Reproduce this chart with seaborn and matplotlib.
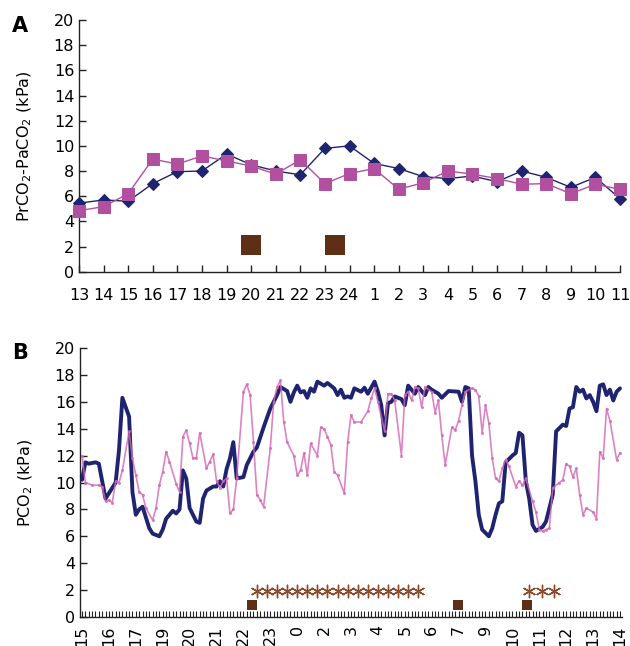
import numpy as np
import pandas as pd
import matplotlib
matplotlib.use("Agg")
import matplotlib.pyplot as plt
import seaborn as sns

# ---------------- Panel A data ----------------
hours_A = ["13", "14", "15", "16", "17", "18", "19", "20", "21", "22", "23", "24",
           "1", "2", "3", "4", "5", "6", "7", "8", "9", "10", "11"]
diamond_A = [5.45, 5.7, 5.6, 7.0, 7.95, 8.0, 9.35, 8.5, 8.0, 7.7, 9.8, 10.0,
             8.6, 8.2, 7.55, 7.4, 7.6, 7.15, 8.0, 7.5, 6.7, 7.5, 5.8]
square_A = [4.85, 5.17, 6.2, 8.95, 8.55, 9.2, 8.8, 8.4, 7.75, 8.9, 7.0, 7.8,
            8.2, 6.55, 7.07, 8.0, 7.75, 7.4, 6.95, 7.0, 6.2, 6.95, 6.55]
events_A_pos = [7, 10.4]
events_A_val = [2.1, 2.1]

# ---------------- Panel B data ----------------
labels_B = ["15", "16", "17", "19", "20", "21", "22", "23", "0", "2", "3", "4",
            "5", "6", "7", "9", "10", "11", "12", "13", "14"]
n_samples_B = 161
blue_idx = [0, 1, 2, 4, 5, 7, 8, 10, 11, 12, 14, 15, 16, 17, 18, 20, 21, 23, 24, 25,
            27, 28, 29, 30, 31, 32, 34, 35, 36, 37, 39, 40, 41, 42, 43, 44, 45, 46, 48, 49,
            51, 52, 54, 56, 58, 59, 61, 62, 63, 64, 65, 66, 67, 68, 69, 70, 72, 73, 75, 76,
            77, 78, 79, 80, 81, 83, 84, 85, 87, 88, 89, 90, 91, 92, 93, 95, 96, 97, 98, 99,
            100, 102, 103, 104, 106, 107, 109, 112, 113, 114, 115, 116, 117, 118, 119, 121,
            122, 123, 124, 125, 126, 128, 129, 130, 131, 132, 133, 134, 135, 137, 138, 140,
            141, 143, 144, 145, 146, 147, 148, 149, 150, 151, 152, 153, 154, 155, 156, 157,
            158, 159, 160]
blue_val = [10.2, 11.5, 11.4, 11.5, 11.4, 8.8, 9.2, 10.0, 12.4, 16.3, 14.9, 9.3, 7.6, 8.0,
            8.2, 6.6, 6.2, 6.0, 6.5, 7.3, 7.9, 7.7, 8.0, 10.9, 10.3, 8.1, 7.1, 7.0, 8.8, 9.4,
            9.7, 9.7, 10.1, 9.7, 11.0, 11.8, 13.0, 10.3, 10.4, 11.3, 12.3, 12.6, 14.1, 15.5,
            16.5, 17.1, 16.8, 16.0, 16.7, 17.2, 16.7, 16.8, 16.3, 17.0, 16.75, 17.5, 17.2,
            17.4, 17.0, 16.5, 16.9, 16.3, 16.4, 16.3, 17.0, 16.75, 17.05, 16.6, 17.5, 16.75,
            15.75, 13.5, 15.9, 16.0, 16.4, 16.2, 15.75, 17.2, 16.9, 16.6, 17.1, 16.5, 17.1,
            16.9, 16.6, 16.3, 16.8, 16.75, 16.0, 17.1, 17.0, 12.0, 10.1, 7.6, 6.5, 6.0, 6.6,
            7.6, 8.45, 8.6, 11.5, 12.0, 12.2, 13.7, 13.5, 10.1, 8.8, 6.85, 6.4, 6.7, 7.1, 9.1,
            13.8, 14.3, 14.2, 15.5, 15.6, 17.1, 16.75, 16.9, 16.25, 16.5, 16.0, 15.3, 17.2,
            17.3, 16.5, 16.9, 16.1, 16.75, 17.0]
pink_idx = [0, 1, 3, 5, 6, 7, 8, 9, 10, 11, 12, 14, 15, 16, 17, 18, 19, 21, 22, 23,
            24, 25, 26, 28, 29, 30, 31, 32, 33, 34, 35, 37, 38, 39, 40, 41, 42, 43, 44, 45,
            46, 48, 49, 50, 51, 52, 53, 54, 56, 57, 58, 59, 60, 61, 63, 64, 65, 66, 67, 68,
            70, 71, 72, 73, 74, 75, 76, 78, 79, 80, 81, 83, 85, 86, 87, 88, 90, 91, 92, 93,
            95, 96, 97, 98, 99, 100, 101, 102, 104, 105, 106, 107, 108, 110, 111, 112, 113,
            114, 116, 117, 118, 119, 120, 121, 122, 123, 124, 125, 126, 127, 129, 130, 131,
            132, 134, 135, 136, 137, 138, 139, 140, 142, 143, 144, 145, 146, 147, 148, 149,
            150, 152, 153, 154, 155, 156, 157, 159, 160]
pink_val = [12.0, 10.0, 9.8, 9.8, 9.7, 8.6, 8.7, 8.5, 10.1, 10.0, 10.9, 13.8, 11.8, 10.55,
            9.3, 9.1, 8.1, 7.2, 8.1, 9.8, 10.8, 12.3, 11.55, 9.9, 9.3, 13.4, 13.9, 12.9, 11.8,
            11.8, 13.7, 11.05, 11.55, 12.1, 10.1, 9.6, 10.1, 10.3, 7.7, 8.0, 10.3, 16.75, 17.3,
            16.5, 13.0, 9.1, 8.7, 8.2, 12.55, 16.0, 17.1, 17.6, 14.5, 13.0, 12.0, 10.55, 10.9,
            12.2, 10.55, 12.9, 12.0, 14.1, 14.0, 13.4, 12.8, 10.8, 10.55, 9.2, 13.0, 15.0,
            14.5, 14.5, 15.3, 16.25, 17.0, 16.0, 13.8, 16.6, 16.6, 16.1, 12.0, 16.5, 16.75,
            16.1, 17.1, 17.0, 15.6, 17.1, 16.75, 15.2, 16.1, 13.5, 11.3, 14.1, 13.9, 14.6,
            15.75, 16.75, 17.0, 16.9, 16.4, 13.7, 15.75, 14.4, 11.8, 10.3, 10.1, 11.05, 11.7,
            11.2, 9.7, 10.1, 9.8, 10.3, 8.6, 7.8, 6.5, 6.4, 6.5, 6.6, 9.6, 10.0, 10.2, 11.4,
            11.2, 10.4, 11.05, 9.1, 7.6, 8.1, 7.8, 7.3, 12.3, 11.8, 15.5, 14.6, 11.7, 12.2]
square_B_pos = [50.5, 111.7, 132.3]
square_B_val = [0.9, 0.9, 0.9]
star_B_pos = [52, 55, 58, 61, 64, 67, 70, 73, 76, 79, 82, 85, 88, 91, 94, 97, 100,
              133, 136.7, 140.4]
star_B_val = [1.95] * 20

NAVY = "#1f2470"
PINK_A = "#b0509f"
PINK_B = "#d466b4"
BROWN = "#5e2e16"
STAR = "#8c4a2c"

sns.set_style("ticks")
plt.rcParams["font.family"] = ["DejaVu Sans"]
plt.rcParams["mathtext.fontset"] = "dejavusans"
plt.rcParams["text.color"] = "black"
plt.rcParams["axes.labelcolor"] = "black"
plt.rcParams["xtick.color"] = "black"
plt.rcParams["ytick.color"] = "black"

fig = plt.figure(figsize=(6.30, 6.46), dpi=100)

# ---------------- Panel A ----------------
axA = fig.add_axes([79 / 630, 1 - 271.7 / 646, 541 / 630, 251.7 / 646])
posA = np.arange(len(hours_A))
dfA = pd.DataFrame({"pos": posA, "diamond": diamond_A, "square": square_A})
sns.lineplot(data=dfA, x="pos", y="diamond", ax=axA, color=NAVY, linewidth=1.0,
             marker="D", markersize=6, markeredgecolor=NAVY, markerfacecolor=NAVY, zorder=3)
sns.lineplot(data=dfA, x="pos", y="square", ax=axA, color=PINK_A, linewidth=1.0,
             marker="s", markersize=8, markeredgecolor=PINK_A, markerfacecolor=PINK_A, zorder=4)
sns.scatterplot(x=events_A_pos, y=events_A_val, ax=axA, marker="s", s=190,
                color=BROWN, edgecolor=BROWN, linewidth=0, zorder=5)
axA.set_xlim(0, len(hours_A) - 1)
axA.set_ylim(0, 20)
axA.set_yticks(np.arange(0, 21, 2))
axA.set_xticks(posA)
axA.set_xticklabels(hours_A)
axA.set_xlabel("")
axA.set_ylabel("PrCO$_2$-PaCO$_2$ (kPa)", fontsize=11.5, labelpad=14)
axA.tick_params(axis="both", direction="in", length=5, width=1, labelsize=11.5,
                color="#222222", labelcolor="black")
axA.tick_params(axis="x", pad=12)
sns.despine(ax=axA)
for sp in ["left", "bottom"]:
    axA.spines[sp].set_color("#222222")
    axA.spines[sp].set_linewidth(1.0)
for ln in axA.lines:
    ln.set_clip_on(False)
fig.text(12 / 630, 1 - 32 / 646, "A", fontsize=15, fontweight="bold", color="black")

# ---------------- Panel B ----------------
axB = fig.add_axes([80 / 630, 1 - 617 / 646, 542 / 630, 269 / 646])
dfBb = pd.DataFrame({"idx": blue_idx, "val": blue_val})
dfBp = pd.DataFrame({"idx": pink_idx, "val": pink_val})
sns.lineplot(data=dfBb, x="idx", y="val", ax=axB, color=NAVY, linewidth=2.8, zorder=3)
sns.lineplot(data=dfBp, x="idx", y="val", ax=axB, color=PINK_B, linewidth=1.2, alpha=0.8,
             marker="o", markersize=2.2, markeredgewidth=0, zorder=4)
sns.scatterplot(x=square_B_pos, y=square_B_val, ax=axB, marker="s", s=60,
                color=BROWN, edgecolor=BROWN, linewidth=0, zorder=5)
sns.scatterplot(x=star_B_pos, y=star_B_val, ax=axB, marker=(6, 2, 0), s=80,
                color=STAR, edgecolor=STAR, linewidth=1.0, zorder=5)
axB.set_xlim(-0.6, n_samples_B - 1 + 0.6)
axB.set_ylim(0, 20)
axB.set_yticks(np.arange(0, 21, 2))
label_pos = np.arange(0, n_samples_B, 8)
axB.set_xticks(label_pos)
axB.set_xticklabels(labels_B, rotation=90)
axB.set_xticks(np.arange(0, n_samples_B, 1), minor=True)
axB.set_xlabel("")
axB.set_ylabel("PCO$_2$ (kPa)", fontsize=11.5, labelpad=14)
axB.tick_params(axis="y", direction="in", length=5, width=1, labelsize=11.5,
                color="#222222", labelcolor="black")
axB.tick_params(axis="x", which="both", direction="in", length=4, width=0.8,
                labelsize=11.5, color="#222222", labelcolor="black", pad=6)
sns.despine(ax=axB)
for sp in ["left", "bottom"]:
    axB.spines[sp].set_color("#222222")
    axB.spines[sp].set_linewidth(1.0)
fig.text(12 / 630, 1 - 359 / 646, "B", fontsize=15, fontweight="bold", color="black")

fig.savefig("out.png", dpi=100)
